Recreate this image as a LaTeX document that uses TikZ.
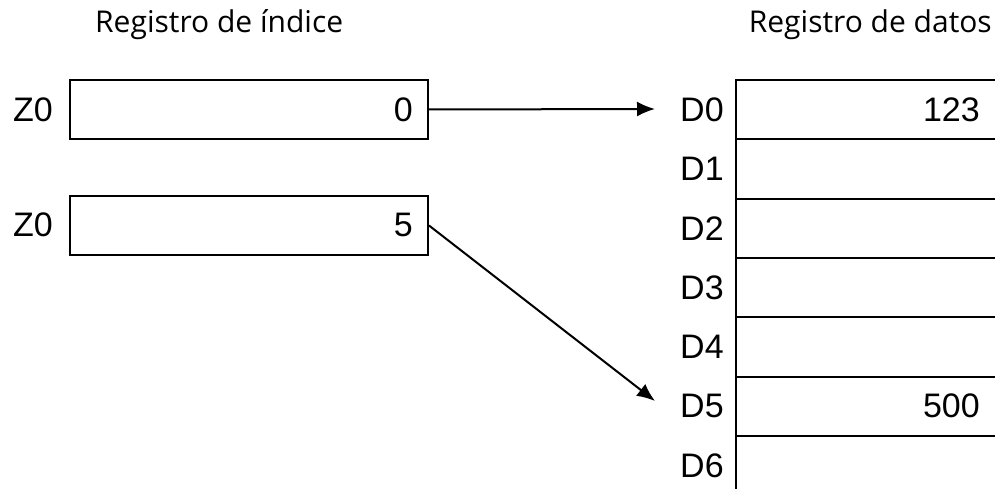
\documentclass[tikz,border=0pt]{standalone}
\usepackage{fontspec}
\setmainfont{Liberation Sans}
\newfontfamily\titlefont{Open Sans}
\usetikzlibrary{arrows.meta}
\tikzset{
  regbox/.style={draw, line width=2pt, minimum width=358pt, minimum height=59pt, inner sep=0pt, anchor=north west},
  cellbox/.style={draw, line width=2pt, minimum width=320pt, minimum height=59.3pt, inner sep=0pt, anchor=north west},
  lbl/.style={font=\fontsize{34}{40}\selectfont, inner sep=0pt},
  ttl/.style={font=\titlefont\fontsize{30}{36}\selectfont, inner sep=0pt},
  ptr/.style={line width=2pt, -{Latex[length=18pt,width=15pt]}}
}
\begin{document}
\begin{tikzpicture}[x=1pt,y=-1pt]
                \useasboundingbox (0,0) rectangle (995,489);
                \clip (0,0) rectangle (995,489);

                \node[ttl, anchor=base west] (ttlidx) at (95,33) {Registro de índice};
                \node[ttl, anchor=base east] (ttldat) at (992,33) {Registro de datos};

                \node[regbox] (za) at (69,79)  {};
                \node[regbox] (zb) at (69,195) {};
                \node[lbl, anchor=west] (zalbl) at (13,110) {Z0};
                \node[lbl, anchor=west] (zblbl) at (13,225) {Z0};
                \node[lbl, anchor=east] (zaval) at (413,110) {0};
                \node[lbl, anchor=east] (zbval) at (413,225) {5};

                \node[cellbox] (c0) at (735,79)    {};
                \node[cellbox] (c1) at (735,138.3) {};
                \node[cellbox] (c2) at (735,197.6) {};
                \node[cellbox] (c3) at (735,256.9) {};
                \node[cellbox] (c4) at (735,316.2) {};
                \node[cellbox] (c5) at (735,375.5) {};
                \node[cellbox] (c6) at (735,434.8) {};

                \node[lbl, anchor=west] (d0) at ([xshift=-55pt]c0.west) {D0};
                \node[lbl, anchor=west] (d1) at ([xshift=-55pt]c1.west) {D1};
                \node[lbl, anchor=west] (d2) at ([xshift=-55pt]c2.west) {D2};
                \node[lbl, anchor=west] (d3) at ([xshift=-55pt]c3.west) {D3};
                \node[lbl, anchor=west] (d4) at ([xshift=-55pt]c4.west) {D4};
                \node[lbl, anchor=west] (d5) at ([xshift=-55pt]c5.west) {D5};
                \node[lbl, anchor=west] (d6) at ([xshift=-55pt]c6.west) {D6};

                \node[lbl, anchor=east] (d0val) at ([xshift=245pt]c0.west) {123};
                \node[lbl, anchor=east] (d5val) at ([xshift=245pt]c5.west) {500};

                \coordinate (tipa) at (655,109);
                \coordinate (tipb) at (655,401);
                \draw[ptr] (za.east) -- (tipa);
                \draw[ptr] (zb.east) -- (tipb);
            \end{tikzpicture}
\end{document}
